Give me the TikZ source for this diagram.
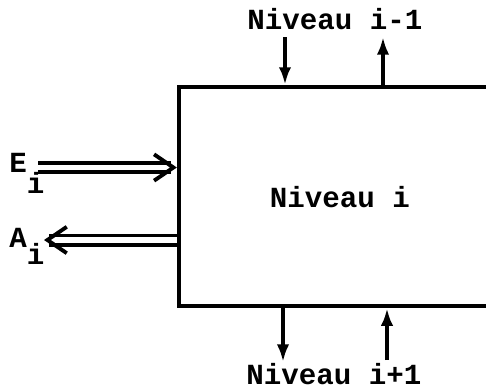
\documentclass[tikz,border=0pt]{standalone}
\usepackage{fontspec}
\setmainfont{Liberation Mono}
\usetikzlibrary{positioning, arrows.meta}

\begin{document}
\begin{tikzpicture}[
        x=0.02cm, y=-0.02cm,
        font=\bfseries\fontsize{16.6}{18}\selectfont,
        level/.style={rectangle, draw, line width=2.5pt, minimum width=6.9cm, minimum height=4.38cm},
        tag/.style={inner sep=0pt},
        arrow/.style={-{Latex[length=10pt,width=7pt]}, line width=2.2pt},
        dblarrow/.style={double, double distance=3pt, line width=2.2pt,
                         -{Straight Barb[length=11pt,width=15pt,line width=2.2pt]}}
    ]
        \useasboundingbox (0,0) rectangle (486,390);
        \clip (0,0) rectangle (486,390);

        % Nodes
        \node [level] (box) at (351.5,196.5) {};
        \node [tag] (niv) at (340,197) {Niveau i};
        \node [tag, anchor=base] (up) at (335,29) {Niveau i-1};
        \node [tag, anchor=base] (down) at (334,384) {Niveau i+1};
        \node [tag, anchor=base west] (E) at (9,172) {E\raisebox{-12pt}{i}};
        \node [tag, anchor=base west] (A) at (9,247) {A\raisebox{-10pt}{i}};

        \coordinate (ein) at (38,167.5);
        \coordinate (aout) at (44,240);
        \coordinate (t1) at (285,37);
        \coordinate (t2) at (383,37);
        \coordinate (b1) at (283,362);
        \coordinate (b2) at (387,360);

        % Edges
        \draw [dblarrow] (ein) -- (ein -| box.west);
        \draw [dblarrow] (aout -| box.west) -- (aout);
        \draw [arrow] (t1) -- (t1 |- box.north);
        \draw [arrow] (t2 |- box.north) -- (t2);
        \draw [arrow] (b1 |- box.south) -- (b1);
        \draw [arrow] (b2) -- (b2 |- box.south);

    \end{tikzpicture}
\end{document}
